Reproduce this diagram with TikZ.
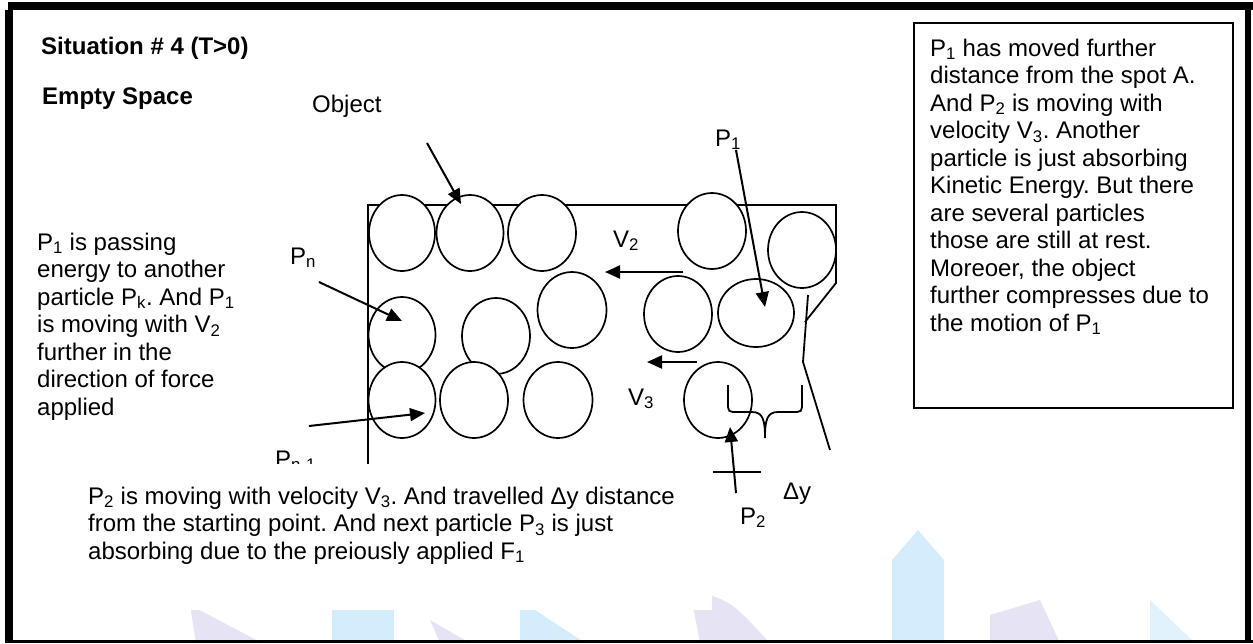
\documentclass[tikz,border=0pt]{standalone}
\usepackage{fontspec}
\setmainfont{Liberation Sans}
\usetikzlibrary{arrows.meta,shapes.geometric}
\newcommand\lowidx[1]{\textsubscript{#1}}
\definecolor{wmblue}{RGB}{212,236,251}
\definecolor{wmlilac}{RGB}{230,227,244}
\frenchspacing

\begin{document}
\begin{tikzpicture}[x=1pt,y=-1pt,
  txt/.style={anchor=base west,inner sep=0pt,font=\fontsize{24}{27.5}\selectfont},
  bold/.style={txt,font=\fontsize{24}{27.5}\selectfont\bfseries},
  particle/.style={ellipse,draw,fill=white,line width=1.7pt,inner sep=0pt},
  wall/.style={line width=1.8pt},
  push/.style={line width=2pt,-{Triangle[length=15pt,width=13pt]}},
  band/.style={fill=black}]
\useasboundingbox (0,0) rectangle (1253,643);

% faint background watermark
\fill[wmlilac] (190,605) -- (262,643) -- (196,643) -- cycle;
\fill[wmblue] (332,596) rectangle (394,643);
\fill[wmlilac] (430,620) -- (470,643) -- (440,643) -- cycle;
\fill[wmblue] (520,600) -- (585,643) -- (520,643) -- cycle;
\fill[wmlilac] (690,590) .. controls (730,600) .. (770,643) -- (700,643) -- cycle;
\fill[wmblue] (892,560) -- (918,530) -- (944,560) -- (944,643) -- (892,643) -- cycle;
\fill[wmlilac] (990,615) -- (1040,600) -- (1060,643) -- (990,643) -- cycle;
\fill[wmblue!70] (1150,600) -- (1195,643) -- (1150,643) -- cycle;

% headings
\node[bold] (title) at (41,54) {Situation \# 4 (T>0)};
\node[bold] (space) at (42,104) {Empty Space};
\node[txt] (object) at (312,112) {Object};

% the object outline
\draw[wall] (368,464) -- (368,205) -- (836,205) -- (836,283) -- (805,322);
\draw[wall] (808,295) -- (803,362) -- (830,450);

% particles, top row
\node[particle,minimum width=66pt,minimum height=76pt] (c1) at (402,233) {};
\node[particle,minimum width=67pt,minimum height=76pt] (c2) at (470,233) {};
\node[particle,minimum width=68pt,minimum height=76pt] (c3) at (542,233) {};
\node[particle,minimum width=68pt,minimum height=76pt] (c4) at (712,231) {};
\node[particle,minimum width=68pt,minimum height=76pt] (c5) at (802,250) {};
% middle row
\node[particle,minimum width=67pt,minimum height=76pt] (c6) at (402,335) {};
\node[particle,minimum width=68pt,minimum height=76pt] (c7) at (496,336) {};
\node[particle,minimum width=69pt,minimum height=76pt] (c8) at (572,310) {};
\node[particle,minimum width=68pt,minimum height=76pt] (c9) at (678,314) {};
\node[particle,minimum width=76pt,minimum height=68pt] (c10) at (756,313) {};
% bottom row
\node[particle,minimum width=67pt,minimum height=76pt] (c11) at (402,400) {};
\node[particle,minimum width=68pt,minimum height=76pt] (c12) at (474,400) {};
\node[particle,minimum width=69pt,minimum height=76pt] (c13) at (558,400) {};
\node[particle,minimum width=68pt,minimum height=76pt] (c14) at (718,400) {};

% labels near the particles
\node[txt] (p1lab) at (715,146) {P\lowidx{1}};
\node[txt] (pnlab) at (290,264) {P\lowidx{n}};
\node[txt] (pn1lab) at (275,467) {P\lowidx{n-1}};
\node[txt] (v2lab) at (613,247) {V\lowidx{2}};
\node[txt] (v3lab) at (628,405) {V\lowidx{3}};
\node[txt] (dylab) at (783,499) {Δy};
\node[txt] (p2lab) at (740,524) {P\lowidx{2}};

% arrow end points
\coordinate (objtail) at (427,143);
\coordinate (objtip) at (461,204);
\coordinate (p1tail) at (736,150);
\coordinate (p1tip) at (765,307);
\coordinate (pntail) at (319,282);
\coordinate (pntip) at (402,321);
\coordinate (pn1tail) at (309,426);
\coordinate (pn1tip) at (425,413);
\coordinate (v2tail) at (683,272);
\coordinate (v2tip) at (605,272);
\coordinate (v3tail) at (697,362);
\coordinate (v3tip) at (647,362);
\coordinate (p2tail) at (736,493);
\coordinate (p2tip) at (730,427);
\coordinate (startl) at (713,472);
\coordinate (startr) at (761,472);

\draw[push] (objtail) -- (objtip);
\draw[push] (p1tail) -- (p1tip);
\draw[push] (pntail) -- (pntip);
\draw[push] (pn1tail) -- (pn1tip);
\draw[push] (v2tail) -- (v2tip);
\draw[push] (v3tail) -- (v3tip);
\draw[push] (p2tail) -- (p2tip);
\draw[wall] (startl) -- (startr);

% brace marking the travelled distance
\draw[wall] (728,385) -- (728,402) .. controls (728,412) .. (738,412) -- (752,412)
  .. controls (763,412) and (765,420) .. (765,438)
  .. controls (765,420) and (767,412) .. (778,412) -- (792,412)
  .. controls (802,412) .. (802,402) -- (802,385);

% left description
\foreach \t [count=\i] in {{P\lowidx{1} is passing},{energy to another},{particle P\lowidx{k}. And P\lowidx{1}},{is moving with V\lowidx{2}},{further in the},{direction of force},{applied}}
  \node[txt] (left\i) at (37,{250+27.5*(\i-1)}) {\t};

% right description box
\node[draw,line width=1.8pt,anchor=north west,minimum width=319pt,minimum height=385pt,inner sep=0pt] (note) at (913,22) {};
\foreach \t [count=\i] in {{P\lowidx{1} has moved further},{distance from the spot A.},{And P\lowidx{2} is moving with},{velocity V\lowidx{3}. Another},{particle is just absorbing},{Kinetic Energy. But there},{are several particles},{those are still at rest.},{Moreoer, the object},{further compresses due to},{the motion of P\lowidx{1}}}
  \node[txt] (right\i) at (930,{56+27.5*(\i-1)}) {\t};

% lower description on its white panel
\fill[white] (40,464) rectangle (712,610);
\foreach \t [count=\i] in {{P\lowidx{2} is moving with velocity V\lowidx{3}. And travelled Δy distance},{from the starting point. And next particle P\lowidx{3} is just},{absorbing due to the preiously applied F\lowidx{1}}}
  \node[txt] (low\i) at (88,{504+27.5*(\i-1)}) {\t};

% page frame
\fill[band] (8,2) rectangle (1253,10);
\fill[band] (5,10) rectangle (13,643);
\fill[band] (1245,2) rectangle (1251,643);
\fill[band] (5,640) rectangle (1253,643);
\end{tikzpicture}
\end{document}
